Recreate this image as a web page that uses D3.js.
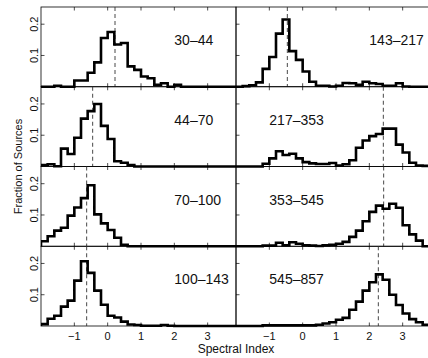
<!DOCTYPE html>
<html>
<head>
<meta charset="utf-8">
<script src="https://cdn.jsdelivr.net/npm/d3@7"></script>
<style>
  body { margin: 0; background: #fff; }
  text { font-family: "Liberation Sans", Arial, sans-serif; fill: #111; }
</style>
</head>
<body>
<div id="chart"></div>
<script>
// left edges of the 0.2 wide spectral index bins
var binLefts = [-2.0, -1.8, -1.6, -1.4, -1.2, -1.0, -0.8, -0.6, -0.4, -0.2,
                 0.0, 0.2, 0.4, 0.6, 0.8, 1.0, 1.2, 1.4, 1.6, 1.8,
                 2.0, 2.2, 2.4, 2.6, 2.8, 3.0, 3.2, 3.4, 3.6];
var binWidth = 0.2;

// frequency band of each panel (GHz), left column then right column
var bands = ["30\u201344", "44\u201370", "70\u2013100", "100\u2013143",
             "143\u2013217", "217\u2013353", "353\u2013545", "545\u2013857"];

// median spectral index (dashed lines)
var medians = [0.22, -0.45, -0.63, -0.63, -0.46, 2.42, 2.43, 2.27];

// fraction of sources per bin
var frac30 = [0, 0, 0.003, 0, 0, 0.02, 0.02, 0.045, 0.078, 0.156,
              0.175, 0.135, 0.14, 0.065, 0.054, 0.033, 0.027, 0.006, 0.011, 0,
              0.006, 0, 0, 0, 0, 0, 0, 0, 0];
var frac44 = [0.005, 0.007, 0.001, 0.057, 0.04, 0.092, 0.153, 0.177, 0.2, 0.13,
              0.088, 0.017, 0.012, 0.005, 0, 0, 0, 0, 0, 0,
              0, 0, 0, 0, 0, 0, 0, 0, 0];
var frac70 = [0.016, 0.032, 0.05, 0.059, 0.098, 0.124, 0.154, 0.195, 0.102, 0.073,
              0.052, 0.027, 0.005, 0, 0, 0, 0, 0, 0, 0,
              0, 0, 0, 0, 0, 0, 0, 0, 0];
var frac100 = [0.006, 0.023, 0.033, 0.062, 0.081, 0.145, 0.207, 0.17, 0.113, 0.068,
               0.033, 0.027, 0.014, 0.005, 0.003, 0.001, 0.001, 0.001, 0.003, 0.001,
               0, 0, 0, 0, 0, 0, 0, 0, 0];
var frac143 = [0, 0.002, 0.005, 0.014, 0.057, 0.095, 0.17, 0.215, 0.114, 0.086,
               0.049, 0.016, 0.003, 0.003, 0.001, 0.003, 0.012, 0.011, 0.006, 0.016,
               0.011, 0.009, 0.003, 0.003, 0.011, 0.001, 0, 0, 0];
var frac217 = [0, 0, 0, 0, 0.009, 0.026, 0.049, 0.037, 0.041, 0.026,
               0.014, 0.01, 0.008, 0.008, 0.011, 0.003, 0.007, 0.02, 0.06, 0.083,
               0.097, 0.104, 0.121, 0.121, 0.07, 0.045, 0.012, 0.003, 0.002];
var frac353 = [0, 0, 0, 0, 0.002, 0.002, 0.011, 0.003, 0.013, 0.008,
               0.003, 0.002, 0.001, 0.003, 0.005, 0.008, 0.014, 0.03, 0.05, 0.08,
               0.11, 0.13, 0.12, 0.136, 0.123, 0.067, 0.038, 0.018, 0];
var frac545 = [0, 0, 0, 0, 0.002, 0.002, 0.002, 0.002, 0.002, 0.002,
               0.002, 0.002, 0.004, 0.008, 0.012, 0.02, 0.026, 0.052, 0.078, 0.113,
               0.14, 0.165, 0.148, 0.1, 0.067, 0.04, 0.022, 0.012, 0.004];

var series = [frac30, frac44, frac70, frac100, frac143, frac217, frac353, frac545];

var xTicks = [-1, 0, 1, 2, 3];
var yTicks = [0.1, 0.2];

//size of canvas
var svgWidth = 428;
var svgHeight = 358;

var margin = { top: 7, left: 41 };
var panelW = 195;
var panelH = 79.75;

var svg = d3.select("#chart")
  .append("svg")
  .attr("width", svgWidth)
  .attr("height", svgHeight);

// scales shared by every panel
var xScale = d3.scaleLinear().domain([-2, 3.85]).range([0, panelW]);
var yScale = d3.scaleLinear().domain([0, 0.255]).range([panelH, 0]);

svg.append("clipPath")
  .attr("id", "panelClip")
  .append("rect")
  .attr("x", 0)
  .attr("y", -6)
  .attr("width", panelW)
  .attr("height", panelH + 12);

var stepLine = d3.line()
  .x(d => xScale(d[0]))
  .y(d => yScale(d[1]));

series.forEach(function(vals, k) {
  var col = k < 4 ? 0 : 1;
  var row = k % 4;
  var g = svg.append("g")
    .attr("transform", `translate(${margin.left + col * panelW}, ${margin.top + row * panelH})`);

  // frame
  g.append("rect")
    .attr("width", panelW)
    .attr("height", panelH)
    .attr("fill", "none")
    .attr("stroke", "#000")
    .attr("stroke-width", 0.8);

  // inward ticks on top, bottom and left
  g.selectAll(".xt-top").data(xTicks).enter().append("line")
    .attr("x1", d => xScale(d)).attr("x2", d => xScale(d))
    .attr("y1", 0).attr("y2", 3.5)
    .attr("stroke", "#000").attr("stroke-width", 0.7);
  g.selectAll(".xt-bot").data(xTicks).enter().append("line")
    .attr("x1", d => xScale(d)).attr("x2", d => xScale(d))
    .attr("y1", panelH).attr("y2", panelH - 3.5)
    .attr("stroke", "#000").attr("stroke-width", 0.7);
  g.selectAll(".yt").data(yTicks).enter().append("line")
    .attr("x1", 0).attr("x2", 3.5)
    .attr("y1", d => yScale(d)).attr("y2", d => yScale(d))
    .attr("stroke", "#000").attr("stroke-width", 0.7);

  // median line
  g.append("line")
    .attr("x1", xScale(medians[k])).attr("x2", xScale(medians[k]))
    .attr("y1", 0).attr("y2", panelH)
    .attr("stroke", "#333")
    .attr("stroke-width", 0.9)
    .attr("stroke-dasharray", "4,3");

  // histogram as a step outline
  var pts = [[binLefts[0], 0]];
  vals.forEach(function(v, i) {
    pts.push([binLefts[i], v]);
    pts.push([binLefts[i] + binWidth, v]);
  });
  pts.push([binLefts[binLefts.length - 1] + binWidth, 0]);
  pts.push([4.2, 0]);

  g.append("path")
    .attr("d", stepLine(pts))
    .attr("clip-path", "url(#panelClip)")
    .attr("fill", "none")
    .attr("stroke", "#000")
    .attr("stroke-width", 2.6)
    .attr("stroke-linejoin", "miter");

  // band label
  var labelX = (col === 0 || row === 0) ? xScale(2.0) : xScale(-1.0);
  g.append("text")
    .attr("x", labelX)
    .attr("y", 38)
    .attr("font-size", "14px")
    .text(bands[k]);

  // y tick labels on the left column
  if (col === 0) {
    g.selectAll(".ylab").data(yTicks).enter().append("text")
      .attr("transform", d => `translate(-3, ${yScale(d)}) rotate(-90)`)
      .attr("text-anchor", "middle")
      .attr("font-size", "11px")
      .text(d => d3.format(".1f")(d));
  }

  // x tick labels on the bottom row
  if (row === 3) {
    g.selectAll(".xlab").data(xTicks).enter().append("text")
      .attr("x", d => xScale(d))
      .attr("y", panelH + 13.5)
      .attr("text-anchor", "middle")
      .attr("font-size", "11px")
      .text(d => d < 0 ? "\u2212" + Math.abs(d) : d);
  }
});

// axis titles
svg.append("text")
  .attr("x", margin.left + panelW)
  .attr("y", 353)
  .attr("text-anchor", "middle")
  .attr("font-size", "12px")
  .text("Spectral Index");

svg.append("text")
  .attr("transform", `translate(22, ${margin.top + 2 * panelH}) rotate(-90)`)
  .attr("text-anchor", "middle")
  .attr("font-size", "11px")
  .text("Fraction of Sources");
</script>
</body>
</html>
